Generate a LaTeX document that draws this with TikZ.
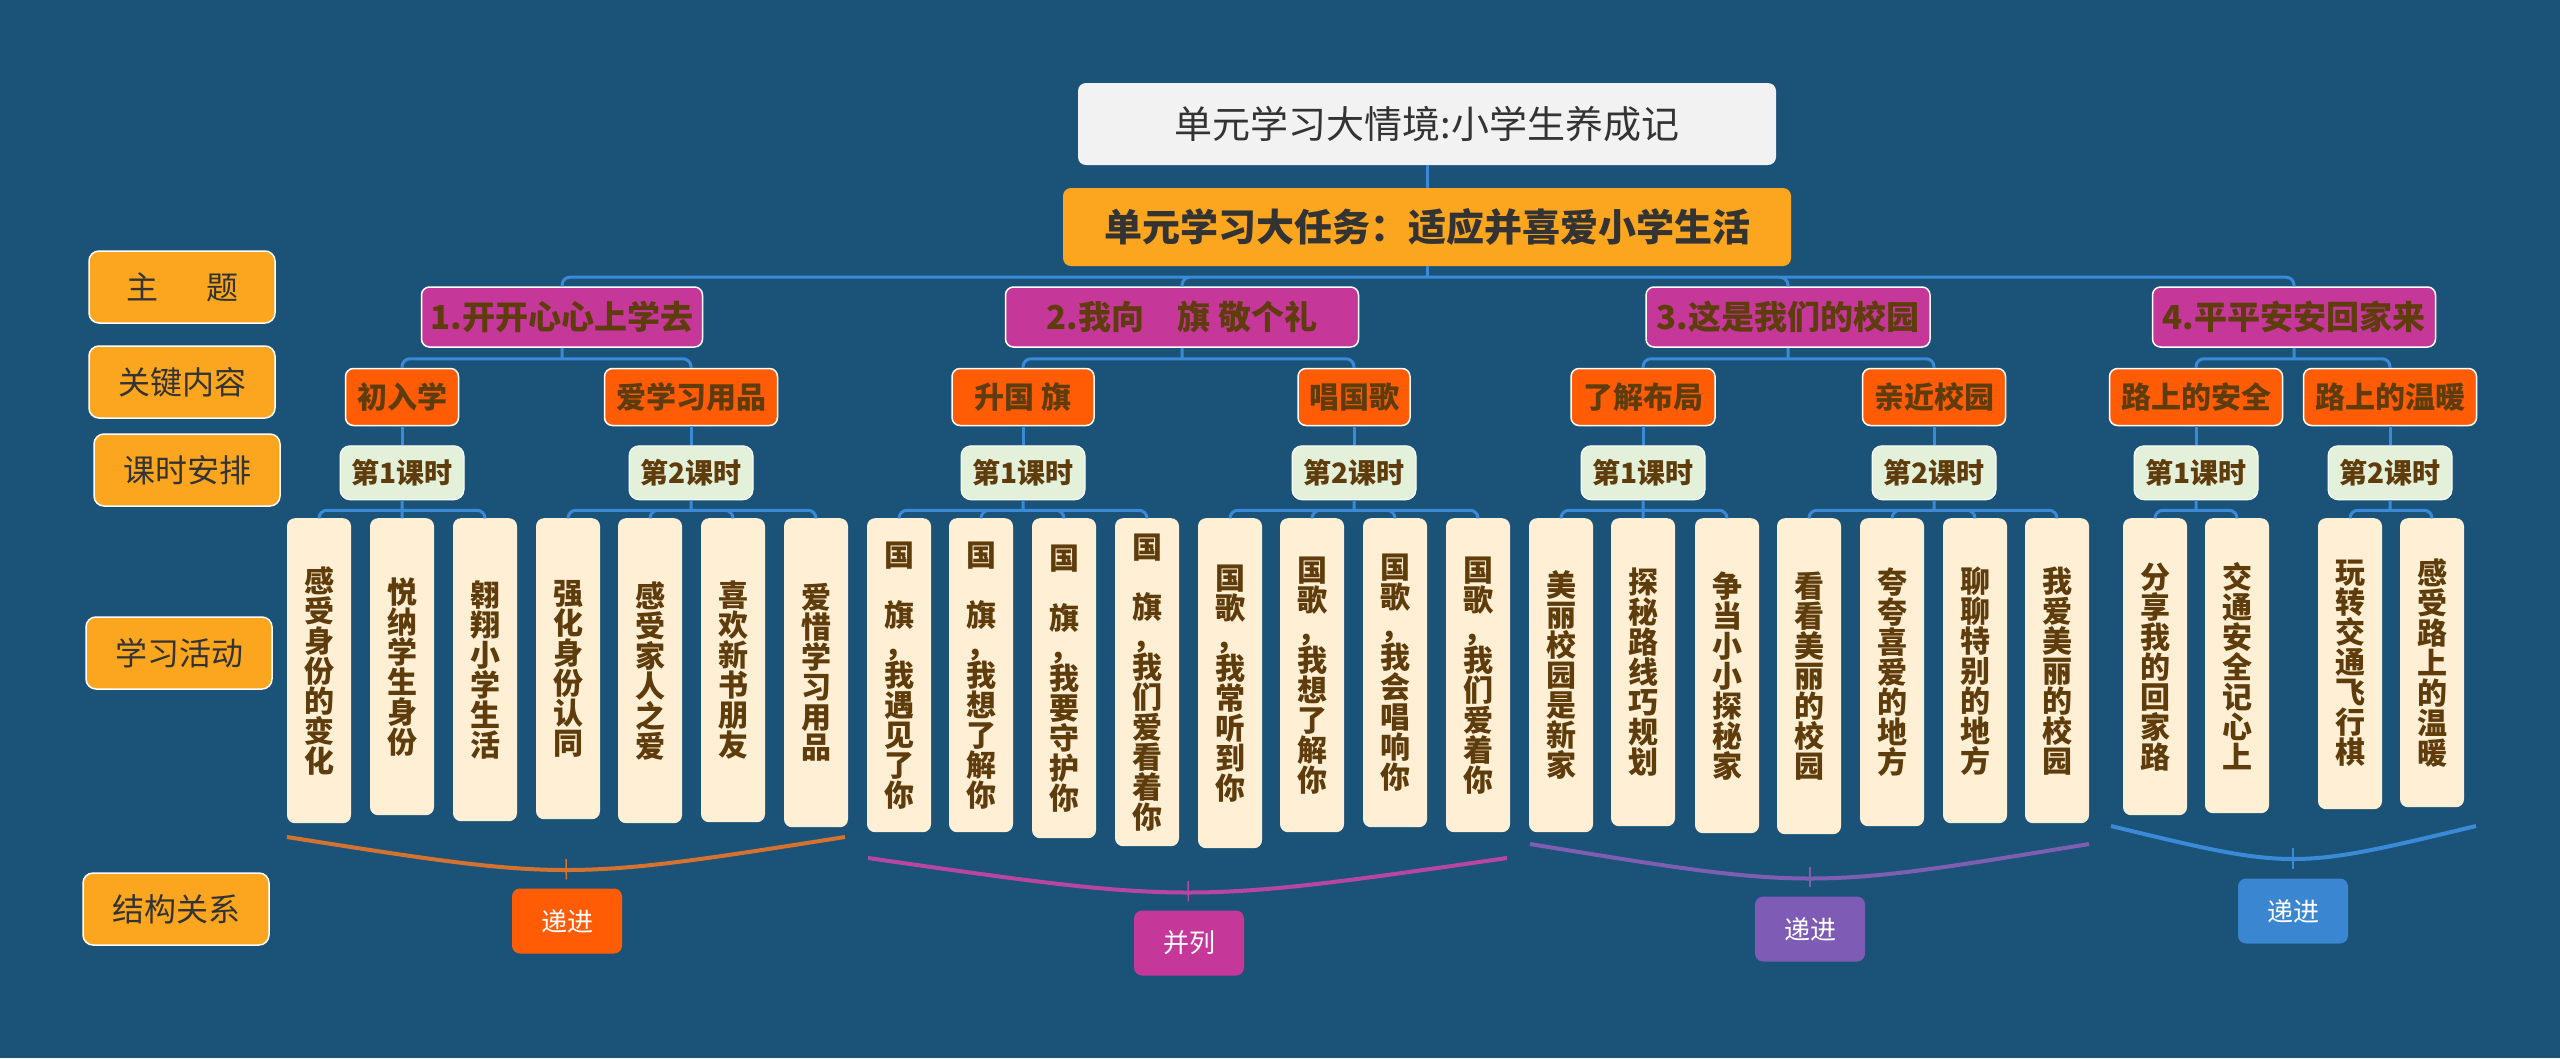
\documentclass[tikz,border=0pt]{standalone}
\usepackage{fontspec}
\setmainfont{Noto Sans CJK SC}
\usepackage{xcolor}
\usepackage{tikz}
\usetikzlibrary{positioning}

\definecolor{bgblue}{RGB}{27,83,120}
\definecolor{linkblue}{RGB}{58,138,216}
\definecolor{scenegray}{RGB}{242,242,242}
\definecolor{taskorange}{RGB}{251,166,30}
\definecolor{topicpink}{RGB}{198,55,154}
\definecolor{keyorange}{RGB}{255,92,5}
\definecolor{lessongreen}{RGB}{227,240,218}
\definecolor{leafcream}{RGB}{255,240,213}
\definecolor{textbrown}{RGB}{95,60,12}
\definecolor{darktext}{RGB}{51,51,51}
\definecolor{orangearc}{RGB}{214,114,48}
\definecolor{pinkarc}{RGB}{184,70,160}
\definecolor{purplearc}{RGB}{125,94,178}
\definecolor{purplebox}{RGB}{126,91,180}
\definecolor{bluebox}{RGB}{58,134,208}

\newcommand\vtext[1]{\vbox{\lineskiplimit=-10pt\vtextnext#1\relax}}
\newcommand\vtextnext[1]{\ifx\relax#1\else\hbox to 1em{\hss#1\hss}\expandafter\vtextnext\fi}

\begin{document}
\begin{tikzpicture}[
    x=1pt, y=-1pt,
    scenebox/.style={
        fill=scenegray,
        rounded corners=8pt,
        inner sep=0pt,
        minimum width=698pt,
        minimum height=82pt,
        text=darktext,
        font=\fontsize{38}{44}\selectfont
    },
    taskbox/.style={
        fill=taskorange,
        rounded corners=8pt,
        inner sep=0pt,
        minimum width=728pt,
        minimum height=78pt,
        text=darktext,
        font=\fontsize{38}{44}\selectfont\bfseries
    },
    topic/.style={
        draw=white, line width=1.5pt,
        fill=topicpink,
        rounded corners=8pt,
        inner sep=0pt,
        minimum height=60pt,
        text=textbrown,
        font=\fontsize{33}{38}\selectfont\bfseries
    },
    keypoint/.style={
        draw=white, line width=1.5pt,
        fill=keyorange,
        rounded corners=8pt,
        inner sep=0pt,
        minimum height=57pt,
        text=textbrown,
        font=\fontsize{30}{34}\selectfont\bfseries
    },
    lesson/.style={
        draw=white, line width=1pt,
        fill=lessongreen,
        rounded corners=10pt,
        inner sep=0pt,
        minimum width=124pt,
        minimum height=54pt,
        text=textbrown,
        font=\fontsize{28}{32}\selectfont\bfseries
    },
    leaf/.style={
        fill=leafcream,
        rounded corners=8pt,
        inner sep=0pt,
        minimum width=64pt,
        anchor=north,
        text=textbrown,
        font=\fontsize{30}{30}\selectfont\bfseries
    },
    rowhead/.style={
        draw=white, line width=1.5pt,
        fill=taskorange,
        rounded corners=10pt,
        inner sep=0pt,
        minimum width=186pt,
        minimum height=72pt,
        text=darktext,
        font=\fontsize{32}{36}\selectfont
    },
    relation/.style={
        rounded corners=8pt,
        inner sep=0pt,
        minimum width=110pt,
        minimum height=65pt,
        text=white,
        font=\fontsize{26}{30}\selectfont
    },
    link/.style={
        draw=linkblue,
        line width=3pt,
        rounded corners=8pt
    },
    brace/.style={line width=4pt},
    stem/.style={line width=1.5pt, shorten >=9pt}
]

\fill[bgblue] (0,0) rectangle (2560,1058);
\useasboundingbox (0,0) rectangle (2560,1058);

\node[rowhead] (s1) at (182,287) {主\hspace{1.5em}题};
\node[rowhead] (s2) at (182,382) {关键内容};
\node[rowhead] (s3) at (187,470) {课时安排};
\node[rowhead] (s4) at (179,653) {学习活动};
\node[rowhead] (s5) at (176,909) {结构关系};

\node[scenebox] (scene) at (1427,124) {单元学习大情境:小学生养成记};

\node[taskbox] (task) at (1427,227) {单元学习大任务：适应并喜爱小学生活};

\node[topic, minimum width=281pt] (t1) at (562,317) {1.开开心心上学去};
\node[topic, minimum width=353pt] (t2) at (1182,317) {2.我向\quad 旗 敬个礼};
\node[topic, minimum width=284pt] (t3) at (1788,317) {3.这是我们的校园};
\node[topic, minimum width=283pt] (t4) at (2294,317) {4.平平安安回家来};

\node[keypoint, minimum width=113pt] (k1) at (402,397) {初入学};
\node[keypoint, minimum width=173pt] (k2) at (691,397) {爱学习用品};
\node[keypoint, minimum width=142pt] (k3) at (1023,397) {升国 旗};
\node[keypoint, minimum width=112pt] (k4) at (1354,397) {唱国歌};
\node[keypoint, minimum width=144pt] (k5) at (1643,397) {了解布局};
\node[keypoint, minimum width=143pt] (k6) at (1934,397) {亲近校园};
\node[keypoint, minimum width=173pt] (k7) at (2196,397) {路上的安全};
\node[keypoint, minimum width=173pt] (k8) at (2390,397) {路上的温暖};

\node[lesson, below=19pt of k1] (l1) {第1课时};
\node[lesson, below=19pt of k2] (l2) {第2课时};
\node[lesson, below=19pt of k3] (l3) {第1课时};
\node[lesson, below=19pt of k4] (l4) {第2课时};
\node[lesson, below=19pt of k5] (l5) {第1课时};
\node[lesson, below=19pt of k6] (l6) {第2课时};
\node[lesson, below=19pt of k7] (l7) {第1课时};
\node[lesson, below=19pt of k8] (l8) {第2课时};

\node[leaf, minimum height=305pt] (a1) at (319,518) {\vtext{感受身份的变化}};
\node[leaf, minimum height=297pt] (a2) at (402,518) {\vtext{悦纳学生身份}};
\node[leaf, minimum height=303pt] (a3) at (485,518) {\vtext{翱翔小学生活}};
\node[leaf, minimum height=301pt] (a4) at (568,518) {\vtext{强化身份认同}};
\node[leaf, minimum height=305pt] (a5) at (650,518) {\vtext{感受家人之爱}};
\node[leaf, minimum height=304pt] (a6) at (733,518) {\vtext{喜欢新书朋友}};
\node[leaf, minimum height=309pt] (a7) at (816,518) {\vtext{爱惜学习用品}};

\node[leaf, minimum height=314pt] (b1) at (899,518) {\vtext{国~旗，我遇见了你}};
\node[leaf, minimum height=314pt] (b2) at (981,518) {\vtext{国~旗，我想了解你}};
\node[leaf, minimum height=320pt] (b3) at (1064,518) {\vtext{国~旗，我要守护你}};
\node[leaf, minimum height=328pt] (b4) at (1147,518) {\vtext{国~旗，我们爱看着你}};

\node[leaf, minimum height=330pt] (c1) at (1230,518) {\vtext{国歌，我常听到你}};
\node[leaf, minimum height=314pt] (c2) at (1312,518) {\vtext{国歌，我想了解你}};
\node[leaf, minimum height=309pt] (c3) at (1395,518) {\vtext{国歌，我会唱响你}};
\node[leaf, minimum height=314pt] (c4) at (1478,518) {\vtext{国歌，我们爱着你}};

\node[leaf, minimum height=314pt] (d1) at (1561,518) {\vtext{美丽校园是新家}};
\node[leaf, minimum height=308pt] (d2) at (1643,518) {\vtext{探秘路线巧规划}};
\node[leaf, minimum height=315pt] (d3) at (1727,518) {\vtext{争当小小探秘家}};

\node[leaf, minimum height=316pt] (e1) at (1809,518) {\vtext{看看美丽的校园}};
\node[leaf, minimum height=308pt] (e2) at (1892,518) {\vtext{夸夸喜爱的地方}};
\node[leaf, minimum height=305pt] (e3) at (1975,518) {\vtext{聊聊特别的地方}};
\node[leaf, minimum height=305pt] (e4) at (2057,518) {\vtext{我爱美丽的校园}};

\node[leaf, minimum height=297pt] (f1) at (2155,518) {\vtext{分享我的回家路}};
\node[leaf, minimum height=295pt] (f2) at (2237,518) {\vtext{交通安全记心上}};

\node[leaf, minimum height=291pt] (g1) at (2350,518) {\vtext{玩转交通飞行棋}};
\node[leaf, minimum height=289pt] (g2) at (2432,518) {\vtext{感受路上的温暖}};

\node[relation, fill=keyorange] (r1) at (567,921) {递进};
\node[relation, fill=topicpink] (r2) at (1189,943) {并列};
\node[relation, fill=purplebox] (r3) at (1810,929) {递进};
\node[relation, fill=bluebox] (r4) at (2293,911) {递进};

\coordinate (hub) at ([yshift=-11pt]task.south);
\coordinate (th1) at ([yshift=-11pt]t1.south);
\coordinate (th2) at ([yshift=-11pt]t2.south);
\coordinate (th3) at ([yshift=-11pt]t3.south);
\coordinate (th4) at ([yshift=-11pt]t4.south);
\coordinate (lh1) at ([yshift=-10pt]l1.south);
\coordinate (lh2) at ([yshift=-10pt]l2.south);
\coordinate (lh3) at ([yshift=-10pt]l3.south);
\coordinate (lh4) at ([yshift=-10pt]l4.south);
\coordinate (lh5) at ([yshift=-10pt]l5.south);
\coordinate (lh6) at ([yshift=-10pt]l6.south);
\coordinate (lh7) at ([yshift=-10pt]l7.south);
\coordinate (lh8) at ([yshift=-10pt]l8.south);

\draw[link] (scene) -- (task);
\draw[link] (task) -- (hub);
\draw[link] (hub) -| (t1) (hub) -| (t2) (hub) -| (t3) (hub) -| (t4);

\draw[link] (t1) -- (th1) (th1) -| (k1) (th1) -| (k2);
\draw[link] (t2) -- (th2) (th2) -| (k3) (th2) -| (k4);
\draw[link] (t3) -- (th3) (th3) -| (k5) (th3) -| (k6);
\draw[link] (t4) -- (th4) (th4) -| (k7) (th4) -| (k8);

\draw[link] (k1) -- (l1) (k2) -- (l2) (k3) -- (l3) (k4) -- (l4);
\draw[link] (k5) -- (l5) (k6) -- (l6) (k7) -- (l7) (k8) -- (l8);

\draw[link] (l1) -- (lh1) (lh1) -| (a1) (lh1) -| (a2) (lh1) -| (a3);
\draw[link] (l2) -- (lh2) (lh2) -| (a4) (lh2) -| (a5) (lh2) -| (a6) (lh2) -| (a7);
\draw[link] (l3) -- (lh3) (lh3) -| (b1) (lh3) -| (b2) (lh3) -| (b3) (lh3) -| (b4);
\draw[link] (l4) -- (lh4) (lh4) -| (c1) (lh4) -| (c2) (lh4) -| (c3) (lh4) -| (c4);
\draw[link] (l5) -- (lh5) (lh5) -| (d1) (lh5) -| (d2) (lh5) -| (d3);
\draw[link] (l6) -- (lh6) (lh6) -| (e1) (lh6) -| (e2) (lh6) -| (e3) (lh6) -| (e4);
\draw[link] (l7) -- (lh7) (lh7) -| (f1) (lh7) -| (f2);
\draw[link] (l8) -- (lh8) (lh8) -| (g1) (lh8) -| (g2);

\coordinate (o1) at (287,837);
\coordinate (o2) at (845,837);
\coordinate (om) at (566,859);
\coordinate (p1) at (868,858);
\coordinate (p2) at (1507,858);
\coordinate (pm) at (1188,881);
\coordinate (q1) at (1530,844);
\coordinate (q2) at (2089,844);
\coordinate (qm) at (1810,867);
\coordinate (u1) at (2111,826);
\coordinate (u2) at (2476,826);
\coordinate (um) at (2293,848);

\draw[brace, orangearc] (o1) .. controls (566,881) .. (o2);
\draw[brace, pinkarc] (p1) .. controls (1188,904) .. (p2);
\draw[brace, purplearc] (q1) .. controls (1810,890) .. (q2);
\draw[brace, linkblue] (u1) .. controls (2293,870) .. (u2);

\draw[stem, orangearc] (om) -- (r1);
\draw[stem, pinkarc] (pm) -- (r2);
\draw[stem, purplearc] (qm) -- (r3);
\draw[stem, linkblue] (um) -- (r4);

\end{tikzpicture}
\end{document}
